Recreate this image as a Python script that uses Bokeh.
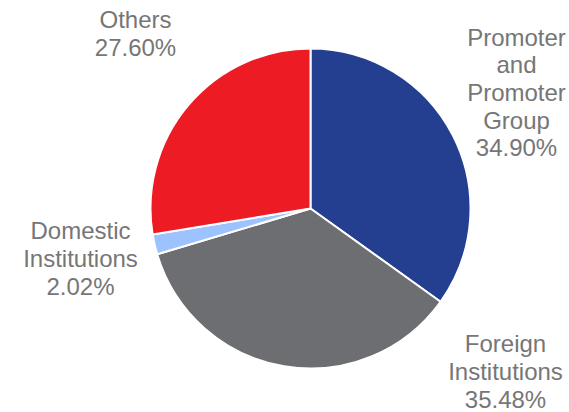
import math
from bokeh.plotting import figure
from bokeh.models import ColumnDataSource, Range1d
from bokeh.core.properties import value
from bokeh.embed import file_html
from bokeh.resources import INLINE

categories = ["Promoter and Promoter Group", "Foreign Institutions", "Domestic Institutions", "Others"]
shares = [34.90, 35.48, 2.02, 27.60]
colors = ["#243F8F", "#6D6E71", "#9DC3FF", "#ED1C24"]
label_texts = ["Promoter\nand\nPromoter\nGroup\n34.90%", "Foreign\nInstitutions\n35.48%",
               "Domestic\nInstitutions\n2.02%", "Others\n27.60%"]
label_x = [516, 505, 80, 135]
label_y = [320, 41, 154, 379]

W, H = 569, 412
total = sum(shares)
starts, ends = [], []
cum = 0.0
for s in shares:
    starts.append(math.pi / 2 - 2 * math.pi * cum / total)
    cum += s
    ends.append(math.pi / 2 - 2 * math.pi * cum / total)

src = ColumnDataSource(dict(cat=categories, share=shares, color=colors, start=starts, end=ends))

p = figure(width=W, height=H, output_backend="svg", toolbar_location=None,
           x_range=Range1d(0, W), y_range=Range1d(0, H), min_border=0)
p.axis.visible = False
p.grid.visible = False
p.outline_line_color = None

p.wedge(x=310, y=204, radius=160, start_angle="start", end_angle="end", direction="clock",
        fill_color="color", line_color="white", line_width=2, source=src)

lsrc = ColumnDataSource(dict(x=label_x, y=label_y, t=label_texts))
p.text(x="x", y="y", text="t", source=lsrc, text_align="center", text_baseline="middle",
       text_font=value("Liberation Sans"), text_font_size="24px", text_color="#767676",
       text_line_height=1.02)

open("out.html", "w").write(file_html(p, INLINE))
